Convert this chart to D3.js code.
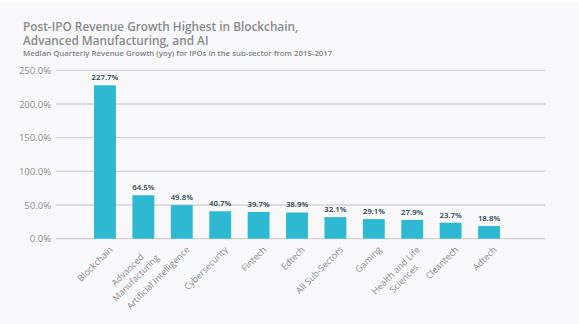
<!DOCTYPE html>
<html>
<head>
<meta charset="utf-8">
<script src="https://cdn.jsdelivr.net/npm/d3@7"></script>
<style>
  body { margin: 0; background: #ffffff; }
  text { font-family: "Open Sans", sans-serif; }
</style>
</head>
<body>
<svg id="chart"></svg>
<script>
// chart data
const categories = ["Blockchain", "Advanced Manufacturing", "Artificial Intelligence", "Cybersecurity",
  "Fintech", "Edtech", "All Sub-Sectors", "Gaming", "Health and Life Sciences", "Cleantech", "Adtech"];
const labelLines = [["Blockchain"], ["Advanced", "Manufacturing"], ["Artificial Intelligence"], ["Cybersecurity"],
  ["Fintech"], ["Edtech"], ["All Sub-Sectors"], ["Gaming"], ["Health and Life", "Sciences"], ["Cleantech"], ["Adtech"]];
const values = [227.7, 64.5, 49.8, 40.7, 39.7, 38.9, 32.1, 29.1, 27.9, 23.7, 18.8];
const yTicks = [0, 50, 100, 150, 200, 250];
const titleLines = ["Post-IPO Revenue Growth Highest in Blockchain,", "Advanced Manufacturing, and AI"];
const subtitle = "Median Quarterly Revenue Growth (yoy) for IPOs in the sub-sector from 2015-2017";

const W = 579, H = 324;
const svg = d3.select("#chart").attr("width", W).attr("height", H);

// light panel background
svg.append("rect").attr("x", 0).attr("y", 3).attr("width", W).attr("height", H - 3).attr("fill", "#f9f9fb");

// titles
const title = svg.append("text").attr("x", 23).attr("y", 31)
  .attr("fill", "#8a8a8a").style("font-size", "11.8px").style("font-weight", 600);
title.selectAll("tspan").data(titleLines).join("tspan")
  .attr("x", 23).attr("dy", (d, i) => i ? 13.5 : 0).text(d => d);

svg.append("text").attr("x", 23).attr("y", 56)
  .attr("fill", "#808080").style("font-size", "7.8px").style("font-weight", 600)
  .text(subtitle);

// scales
const x = d3.scaleBand().domain(categories).range([56, 538]).paddingInner(0.43).paddingOuter(0.99);
const y = d3.scaleLinear().domain([0, 250]).range([238.7, 70.3]);

// gridlines
svg.append("g").selectAll("line").data(yTicks).join("line")
  .attr("x1", 56).attr("x2", 545)
  .attr("y1", d => y(d)).attr("y2", d => y(d))
  .attr("stroke", "#d2d2d6").attr("stroke-width", 1.3);

// y axis labels
const yAxis = d3.axisLeft(y).tickValues(yTicks).tickSize(0).tickPadding(0)
  .tickFormat(d => d3.format(".1f")(d) + "%");
const yG = svg.append("g").attr("transform", "translate(51,0)").call(yAxis);
yG.select(".domain").remove();
yG.selectAll("text").attr("fill", "#8c8c8c").style("font-size", "9.5px")
  .style("font-family", "'Open Sans', sans-serif");

// bars
const data = categories.map((c, i) => ({ cat: c, val: values[i], lines: labelLines[i] }));
svg.append("g").selectAll("rect").data(data).join("rect")
  .attr("x", d => x(d.cat))
  .attr("width", x.bandwidth())
  .attr("y", d => y(d.val))
  .attr("height", d => y(0) - y(d.val))
  .attr("fill", "#2eb8d1");

// value labels
svg.append("g").selectAll("text").data(data).join("text")
  .attr("x", d => x(d.cat) + x.bandwidth() / 2)
  .attr("y", d => y(d.val) - 5)
  .attr("text-anchor", "middle")
  .attr("fill", "#24404f").style("font-size", "7.8px").style("font-weight", 600)
  .text(d => d3.format(".1f")(d.val) + "%");

// category labels, rotated
const lab = svg.append("g").selectAll("g").data(data).join("g")
  .attr("transform", d => `translate(${x(d.cat) + x.bandwidth() / 2 + 6},248) rotate(-45)`);
lab.each(function (d) {
  const g = d3.select(this);
  const texts = g.selectAll("text").data(d.lines).join("text")
    .attr("fill", "#8c8c8c").style("font-size", "9px")
    .attr("text-anchor", "middle")
    .attr("dy", "0.35em")
    .text(t => t);
  const widths = [];
  texts.each(function () { widths.push(this.getComputedTextLength()); });
  const maxW = d3.max(widths);
  texts.attr("x", -maxW / 2).attr("y", (t, i) => i * 11.5);
});
</script>
</body>
</html>
